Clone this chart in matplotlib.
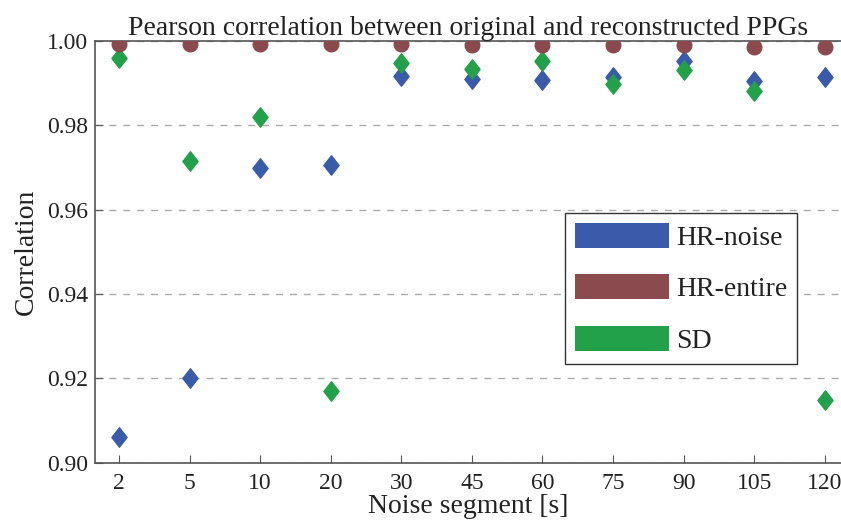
import matplotlib.pyplot as plt
from matplotlib.patches import Patch
from matplotlib.path import Path
import numpy as np

segments = ["2", "5", "10", "20", "30", "45", "60", "75", "90", "105", "120"]
hr_noise = [0.9062, 0.9201, 0.9700, 0.9705, 0.9917, 0.9910, 0.9908, 0.9915, 0.9953, 0.9905, 0.9915]
hr_entire = [0.9993, 0.9993, 0.9993, 0.9993, 0.9992, 0.9991, 0.9991, 0.9991, 0.9991, 0.9987, 0.9986]
sd = [0.9961, 0.9716, 0.9819, 0.9170, 0.9947, 0.9934, 0.9953, 0.9898, 0.9931, 0.9881, 0.9149]

c_noise = "#3A5BA9"
c_entire = "#8B4A4E"
c_sd = "#22A04A"
txt = "#222222"

plt.rcParams['font.family'] = ['Liberation Serif', 'DejaVu Serif']

# slightly narrow diamond like the original
diamond = Path([(0, 1), (0.78, 0), (0, -1), (-0.78, 0), (0, 1)],
               [Path.MOVETO, Path.LINETO, Path.LINETO, Path.LINETO, Path.CLOSEPOLY])

fig = plt.figure(figsize=(8.41, 5.2), dpi=100)
ax = fig.add_axes([0.113, 0.11, 0.887, 0.811])

x = np.arange(len(segments))
ax.plot(x, hr_noise, linestyle="none", marker=diamond, markersize=14, color=c_noise, zorder=3)
ax.plot(x, sd, linestyle="none", marker=diamond, markersize=14, color=c_sd, zorder=4)
ax.plot(x, hr_entire, linestyle="none", marker="o", markersize=10.5, color=c_entire, zorder=5)

ax.set_xlim(-0.34, 10.23)
ax.set_ylim(0.90, 1.00)
ax.set_xticks(x)
ax.set_xticklabels(segments)
ax.set_yticks([0.90, 0.92, 0.94, 0.96, 0.98, 1.00])
ax.set_yticklabels(["0.90", "0.92", "0.94", "0.96", "0.98", "1.00"])
ax.yaxis.grid(True, linestyle=(0, (5, 5)), color="#aaaaaa", linewidth=1)
ax.set_axisbelow(True)

for s in ["left", "bottom", "top"]:
    ax.spines[s].set_color("#555555")
    ax.spines[s].set_linewidth(1.2)
ax.spines["right"].set_visible(False)
ax.tick_params(axis="both", direction="in", length=6, color="#555555", labelsize=17, labelcolor=txt)
ax.tick_params(axis="x", pad=7)
ax.tick_params(axis="y", pad=5)

ax.set_title("Pearson correlation between original and reconstructed PPGs", fontsize=20, color=txt, pad=4)
ax.set_xlabel("Noise segment [s]", fontsize=20, color=txt, labelpad=0)
ax.set_ylabel("Correlation", fontsize=20, color=txt, labelpad=6)

handles = [Patch(facecolor=c_noise, label="HR-noise"),
           Patch(facecolor=c_entire, label="HR-entire"),
           Patch(facecolor=c_sd, label="SD")]
leg = ax.legend(handles=handles, loc="upper left", bbox_to_anchor=(0.63, 0.592), borderaxespad=0,
                fontsize=20, handlelength=3.4, handleheight=1.0, handletextpad=0.25,
                labelspacing=0.85, borderpad=0.35,
                fancybox=False, framealpha=1, edgecolor="#333333")
leg.get_frame().set_linewidth(1.0)
for t in leg.get_texts():
    t.set_color(txt)

plt.savefig("out.png", dpi=100)
